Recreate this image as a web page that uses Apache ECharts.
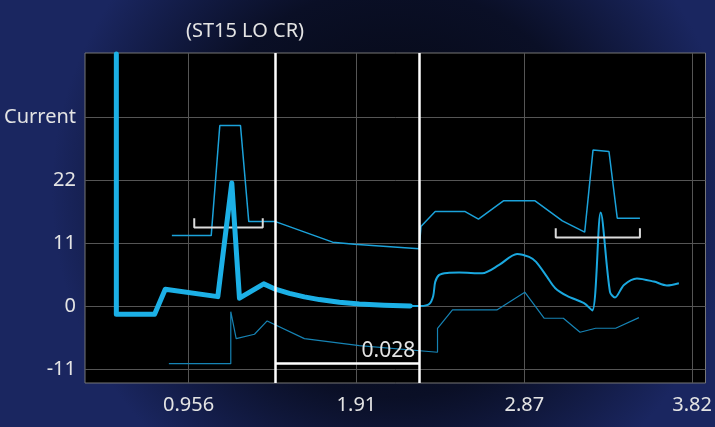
<!DOCTYPE html>
<html>
<head>
<meta charset="utf-8">
<script src="https://cdn.jsdelivr.net/npm/echarts@6/dist/echarts.min.js"></script>
<style>
  html, body { margin: 0; padding: 0; background: #070b1c; }
  #chart { width: 715px; height: 427px; }
</style>
</head>
<body>
<div id="chart"></div>
<script>
// axis ticks
const xTickValues = [0.9555, 1.911, 2.8665, 3.822];
const xTickLabels = ['0.956', '1.91', '2.87', '3.82'];
const yTickValues = [-11, 0, 11, 22, 33];
const yTickLabels = ['-11', '0', '11', '22', 'Current'];

// thick trace (selected part)
const mainX = [0.5445, 0.5445, 0.7622, 0.823, 1.122, 1.2016, 1.2454, 1.3835, 1.45, 1.5296, 1.6149, 1.7002, 1.8139, 1.9275, 2.0696, 2.2174];
const mainY = [44, -1.4, -1.4, 2.95, 1.66, 21.5, 1.38, 3.88, 2.95, 2.23, 1.61, 1.14, 0.68, 0.38, 0.16, 0.02];

// same trace after the cursor
const tailX = [2.2174, 2.2782, 2.3254, 2.3481, 2.3595, 2.3822, 2.4277, 2.496, 2.6267, 2.7233, 2.8256, 2.8938, 2.9336, 2.9961, 3.0416, 3.1098, 3.2064, 3.2536, 3.3013, 3.3542, 3.3826, 3.4338, 3.5077, 3.6043, 3.6782, 3.7464];
const tailY = [0.02, 0.03, 0.38, 1.78, 4.23, 5.45, 5.8, 5.85, 5.74, 7.19, 9.11, 8.59, 7.72, 5.1, 3.18, 1.78, 0.51, -0.75, 16.33, 2.48, 1.52, 3.7, 4.84, 4.28, 3.61, 4.0];

// upper envelope
const upperX = [0.8606, 1.0845, 1.1334, 1.2511, 1.2983, 1.45, 1.7757, 1.8991, 2.2685, 2.2782, 2.3595, 2.53, 2.6056, 2.7477, 2.9279, 3.0833, 3.2104, 3.2576, 3.3485, 3.3957, 3.5248];
const upperY = [12.31, 12.31, 31.52, 31.52, 14.75, 14.75, 11.16, 10.81, 9.99, 13.88, 16.5, 16.5, 15.17, 18.37, 18.37, 14.88, 12.9, 27.22, 26.98, 15.35, 15.35];

// lower envelope
const lowerX = [0.8435, 1.1959, 1.1959, 1.2266, 1.3307, 1.4029, 1.6149, 1.9275, 2.3726, 2.3726, 2.4578, 2.7102, 2.8694, 2.9791, 3.0888, 3.1837, 3.2729, 3.3866, 3.519];
const lowerY = [-10.04, -10.04, -0.96, -5.67, -4.91, -2.58, -5.67, -6.9, -8.05, -3.86, -0.66, -0.66, 2.43, -2.11, -2.11, -4.56, -3.86, -3.86, -2.01];

// brackets
const bracketLeftX = [0.9879, 0.9879, 1.3778, 1.3778];
const bracketLeftY = [15.35, 13.71, 13.71, 15.35];
const bracketRightX = [3.0455, 3.0455, 3.5247, 3.5247];
const bracketRightY = [13.6, 11.96, 11.96, 13.6];

// cursors
const cursorX = [1.45, 2.2685];
const cursorY = -10.0;
const cursorText = '0.028';

const pairs = (xs, ys) => xs.map((x, i) => [x, ys[i]]);

const chart = echarts.init(document.getElementById('chart'));
const txtColor = '#e4e4e4';
const font = 'Noto Sans';

chart.setOption({
  animation: false,
  backgroundColor: new echarts.graphic.RadialGradient(0.55, 0.45, 0.8, [
    { offset: 0, color: '#04060e' },
    { offset: 0.6, color: '#0a0f26' },
    { offset: 1, color: '#1a2660' },
  ]),
  title: {
    text: '(ST15 LO CR)',
    left: 240,
    top: 16,
    textAlign: 'center',
    textStyle: { color: txtColor, fontSize: 20, fontWeight: 'normal', fontFamily: font },
  },
  grid: {
    left: 85,
    top: 53,
    right: 8,
    bottom: 44,
    show: true,
    backgroundColor: '#000',
    borderColor: '#777',
    borderWidth: 1,
  },
  xAxis: {
    type: 'value',
    min: 0.3661,
    max: 3.898,
    axisLine: { show: false },
    axisTick: { show: false, customValues: xTickValues },
    splitLine: { show: true, lineStyle: { color: '#555', width: 1 } },
    axisLabel: {
      customValues: xTickValues,
      color: txtColor,
      fontSize: 20,
      fontFamily: font,
      margin: 12,
      formatter: (v) => {
        const i = xTickValues.indexOf(v);
        return i >= 0 ? xTickLabels[i] : '';
      },
    },
  },
  yAxis: {
    type: 'value',
    min: -13.41,
    max: 44.16,
    axisLine: { show: false },
    axisTick: { show: false, customValues: yTickValues },
    splitLine: { show: true, lineStyle: { color: '#555', width: 1 } },
    axisLabel: {
      customValues: yTickValues,
      color: txtColor,
      fontSize: 20,
      fontFamily: font,
      margin: 9,
      formatter: (v) => {
        const i = yTickValues.indexOf(v);
        return i >= 0 ? yTickLabels[i] : '';
      },
    },
  },
  series: [
    {
      name: 'lower',
      type: 'line',
      data: pairs(lowerX, lowerY),
      showSymbol: false,
      lineStyle: { color: '#1683b4', width: 1.2 },
      z: 2,
    },
    {
      name: 'upper',
      type: 'line',
      data: pairs(upperX, upperY),
      showSymbol: false,
      lineStyle: { color: '#1ba2da', width: 1.5 },
      z: 2,
    },
    {
      name: 'tail',
      type: 'line',
      data: pairs(tailX, tailY),
      showSymbol: false,
      smooth: 0.3,
      lineStyle: { color: '#1aa8df', width: 2 },
      z: 3,
    },
    {
      name: 'bracketLeft',
      type: 'line',
      data: pairs(bracketLeftX, bracketLeftY),
      showSymbol: false,
      lineStyle: { color: '#dcdcdc', width: 2 },
      z: 3,
    },
    {
      name: 'bracketRight',
      type: 'line',
      data: pairs(bracketRightX, bracketRightY),
      showSymbol: false,
      lineStyle: { color: '#dcdcdc', width: 2 },
      z: 3,
    },
    {
      name: 'main',
      type: 'line',
      data: pairs(mainX, mainY),
      showSymbol: false,
      lineStyle: { color: '#1cb0e6', width: 5, cap: 'round', join: 'round' },
      z: 4,
      markLine: {
        silent: true,
        symbol: 'none',
        lineStyle: { color: '#fff', width: 2.5, type: 'solid' },
        label: { show: false },
        data: [
          { xAxis: cursorX[0] },
          { xAxis: cursorX[1] },
          [
            {
              coord: [cursorX[0], cursorY],
              label: {
                show: true,
                position: 'insideEndTop',
                formatter: cursorText,
                color: txtColor,
                fontSize: 21,
                fontFamily: font,
                distance: [4, 2],
              },
            },
            { coord: [cursorX[1], cursorY] },
          ],
        ],
      },
    },
  ],
});
</script>
</body>
</html>
